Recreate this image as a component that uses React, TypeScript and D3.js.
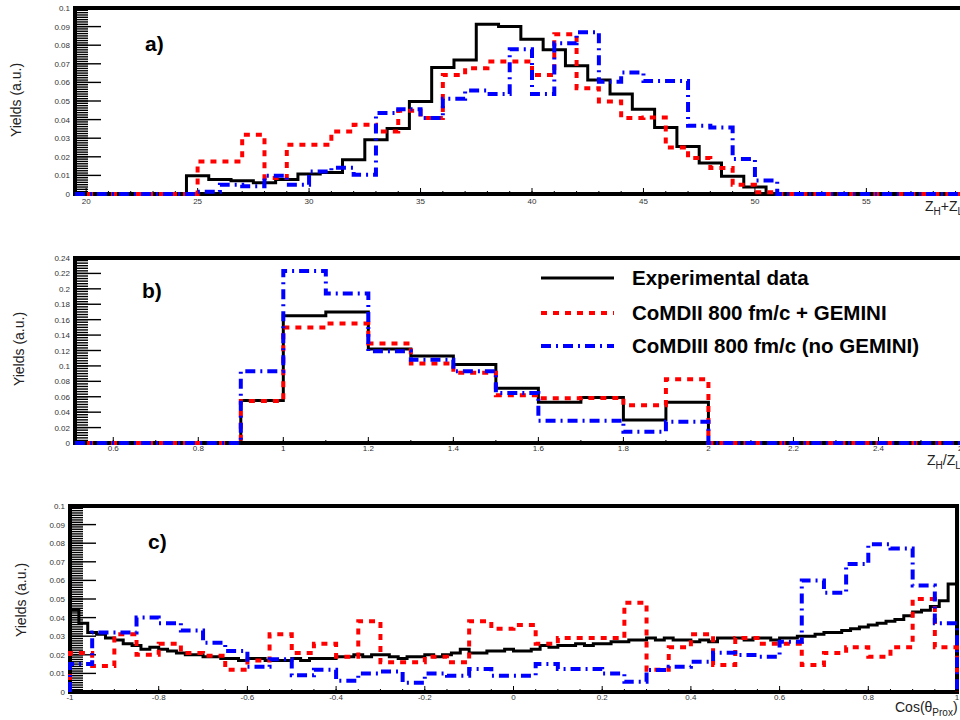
import React, { useEffect, useRef } from 'react';
import * as d3 from 'd3';

// a) Z_H + Z_L : data bins are centred on integers, the simulations use integer edges
const aExpStart = 24.5;
const aExp = [0.0098, 0.0078, 0.0071, 0.006, 0.0078, 0.0108, 0.0116, 0.0184, 0.0291, 0.0352, 0.0497, 0.068, 0.0721,
  0.0912, 0.09, 0.0832, 0.0775, 0.0689, 0.0613, 0.0537, 0.0456, 0.0357, 0.0256, 0.0166, 0.0095, 0.0037];
const aSimStart = 25;
const aGem = [0.0175, 0.0175, 0.0318, 0.0086, 0.0265, 0.0265, 0.0336, 0.0372, 0.0336, 0.0447, 0.0408, 0.064, 0.0676,
  0.0712, 0.0712, 0.064, 0.0859, 0.0569, 0.0497, 0.0408, 0.0411, 0.025, 0.0193, 0.014, 0.005, 0.001];
const aNoGem = [0.0012, 0.005, 0.0042, 0.0098, 0.005, 0.0121, 0.0141, 0.0104, 0.0435, 0.0456, 0.0408, 0.0512, 0.0556,
  0.0537, 0.0778, 0.0537, 0.081, 0.087, 0.0604, 0.0653, 0.0608, 0.0608, 0.0367, 0.0357, 0.0188, 0.0073];
const aXTicks = [20, 25, 30, 35, 40, 45, 50, 55, 60];
const aYTicks = [0, 0.01, 0.02, 0.03, 0.04, 0.05, 0.06, 0.07, 0.08, 0.09, 0.1];

// b) Z_H / Z_L, 0.1 wide bins from 0.9
const bStart = 0.9;
const bExp = [0.055, 0.165, 0.17, 0.122, 0.113, 0.102, 0.071, 0.053, 0.059, 0.03, 0.053];
const bGem = [0.0546, 0.15, 0.155, 0.129, 0.103, 0.091, 0.062, 0.058, 0.0585, 0.049, 0.0826];
const bNoGem = [0.093, 0.223, 0.194, 0.119, 0.108, 0.093, 0.065, 0.029, 0.029, 0.0145, 0.0275];
const bXTicks = [0.6, 0.8, 1, 1.2, 1.4, 1.6, 1.8, 2, 2.2, 2.4, 2.6];
const bYTicks = [0, 0.02, 0.04, 0.06, 0.08, 0.1, 0.12, 0.14, 0.16, 0.18, 0.2, 0.22, 0.24];

// c) Cos(theta_Prox): data in 0.02 bins, simulations in 0.05 bins
const cExp = [
  0.044, 0.037, 0.032, 0.031, 0.029, 0.028, 0.026, 0.025, 0.023, 0.024,
  0.023, 0.022, 0.021, 0.02, 0.02, 0.019, 0.019, 0.018, 0.018, 0.017,
  0.018, 0.018, 0.017, 0.017, 0.017, 0.018, 0.017, 0.018, 0.018, 0.018,
  0.019, 0.019, 0.02, 0.019, 0.02, 0.02, 0.019, 0.018, 0.019, 0.019,
  0.02, 0.019, 0.02, 0.021, 0.023, 0.021, 0.021, 0.022, 0.022, 0.023,
  0.022, 0.022, 0.023, 0.025, 0.024, 0.025, 0.025, 0.026, 0.025, 0.026,
  0.026, 0.027, 0.027, 0.028, 0.028, 0.029, 0.028, 0.029, 0.028, 0.028,
  0.027, 0.028, 0.027, 0.029, 0.029, 0.029, 0.028, 0.029, 0.029, 0.028,
  0.029, 0.029, 0.03, 0.03, 0.031, 0.032, 0.032, 0.033, 0.034, 0.035,
  0.036, 0.037, 0.038, 0.039, 0.041, 0.043, 0.044, 0.046, 0.049, 0.058];
const cGem = [
  0.021, 0.014, 0.031, 0.02, 0.026, 0.021, 0.0195, 0.012, 0.017, 0.031,
  0.021, 0.026, 0.019, 0.038, 0.016, 0.016, 0.019, 0.016, 0.038, 0.034,
  0.036, 0.026, 0.029, 0.029, 0.029, 0.048, 0.012, 0.024, 0.031, 0.0145,
  0.029, 0.026, 0.026, 0.0145, 0.021, 0.024, 0.019, 0.024, 0.05, 0.024];
const cNoGem = [
  0.015, 0.032, 0.032, 0.04, 0.037, 0.033, 0.0265, 0.022, 0.0136, 0.0176,
  0.009, 0.012, 0.006, 0.01, 0.011, 0.005, 0.01, 0.0088, 0.0124, 0.0088,
  0.0088, 0.015, 0.0124, 0.0124, 0.01, 0.0055, 0.0118, 0.0136, 0.0163, 0.0211,
  0.0199, 0.019, 0.027, 0.06, 0.0534, 0.0688, 0.0794, 0.0772, 0.0572, 0.0369];
const cXTicks = [-1, -0.8, -0.6, -0.4, -0.2, 0, 0.2, 0.4, 0.6, 0.8, 1];
const cYTicks = aYTicks;

const legendLabels = ['Experimental data', 'CoMDII 800 fm/c + GEMINI', 'CoMDIII 800 fm/c (no GEMINI)'];

const FONT = '"Liberation Sans", Arial, Helvetica, sans-serif';
const styles = [
  { color: '#000000', width: 3, dash: null },
  { color: '#ff0000', width: 4, dash: '6,6' },
  { color: '#0000ff', width: 4, dash: '10,5,2,5' },
];

const panels = [
  {
    label: 'a)', labelPos: [145, 51], left: 75, right: 989, top: 8, bottom: 194,
    xDomain: [19.5, 60.5], yMax: 0.1, xTicks: aXTicks, yTicks: aYTicks, xMinor: 1, yMinorN: 8,
    tickDy: 10, titleY: 100, titleX: 16,
    xTitle: { x: 925, y: 211, parts: ['Z', 'H', '+Z', 'L'] },
    series: [
      { start: aExpStart, width: 1, vals: aExp },
      { start: aSimStart, width: 1, vals: aGem },
      { start: aSimStart, width: 1, vals: aNoGem },
    ],
  },
  {
    label: 'b)', labelPos: [142, 298], left: 75, right: 989, top: 258, bottom: 443,
    xDomain: [0.51, 2.66], yMax: 0.24, xTicks: bXTicks, yTicks: bYTicks, xMinor: 0.1, yMinorN: 6,
    tickDy: 8, titleY: 349, titleX: 19,
    xTitle: { x: 927, y: 465, parts: ['Z', 'H', '/Z', 'L'] },
    series: [
      { start: bStart, width: 0.1, vals: bExp },
      { start: bStart, width: 0.1, vals: bGem },
      { start: bStart, width: 0.1, vals: bNoGem },
    ],
  },
  {
    label: 'c)', labelPos: [148, 549], left: 70, right: 957, top: 506, bottom: 692,
    xDomain: [-1, 1], yMax: 0.1, xTicks: cXTicks, yTicks: cYTicks, xMinor: 0.05, yMinorN: 8,
    tickDy: 8, titleY: 600, titleX: 21,
    xTitle: { x: 895, y: 712, parts: ['Cos(\u03b8', 'Prox', ')', ''] },
    series: [
      { start: -1, width: 0.02, vals: cExp },
      { start: -1, width: 0.05, vals: cGem },
      { start: -1, width: 0.05, vals: cNoGem },
    ],
  },
];

// step outline of a histogram, flat at zero out to the axis ends
const steps = (start: number, width: number, vals: number[], lo: number, hi: number) => {
  const pts: [number, number][] = [[lo, 0], [start, 0]];
  vals.forEach((v, i) => {
    pts.push([start + i * width, v], [start + (i + 1) * width, v]);
  });
  pts.push([start + vals.length * width, 0], [hi, 0]);
  return pts;
};

const fmt = (v: number) => String(+v.toFixed(3));

const App = () => {
  const ref = useRef<SVGSVGElement>(null);

  useEffect(() => {
    const svg = d3.select(ref.current);
    svg.selectAll('*').remove();
    svg.append('rect').attr('width', 960).attr('height', 720).attr('fill', '#fff');

    panels.forEach(p => {
      const x = d3.scaleLinear().domain(p.xDomain).range([p.left, p.right]);
      const y = d3.scaleLinear().domain([0, p.yMax]).range([p.bottom, p.top]);
      const g = svg.append('g');

      // y ticks: long majors, dense minors
      const yStep = p.yTicks[1] - p.yTicks[0];
      const nMinor = (p.yTicks.length - 1) * p.yMinorN;
      g.selectAll('line.ymin')
        .data(d3.range(0, nMinor + 1).map(i => (i * yStep) / p.yMinorN))
        .enter().append('line')
        .attr('x1', p.left).attr('x2', p.left + 13)
        .attr('y1', d => y(d)).attr('y2', d => y(d))
        .attr('stroke', '#000').attr('stroke-width', 1.4);
      g.selectAll('line.ymaj')
        .data(p.yTicks)
        .enter().append('line')
        .attr('x1', p.left).attr('x2', p.left + 26)
        .attr('y1', d => y(d)).attr('y2', d => y(d))
        .attr('stroke', '#000').attr('stroke-width', 1.4);
      g.selectAll('text.ylab')
        .data(p.yTicks)
        .enter().append('text')
        .attr('x', p.left - 5).attr('y', d => y(d) + 3)
        .attr('text-anchor', 'end')
        .style('font', `8px ${FONT}`).attr('fill', '#333')
        .text(d => fmt(d));

      // x ticks on the bottom axis
      const nx = Math.round((p.xDomain[1] - p.xDomain[0]) / p.xMinor) + 1;
      const first = Math.ceil(p.xDomain[0] / p.xMinor - 1e-6) * p.xMinor;
      g.selectAll('line.xmin')
        .data(d3.range(0, nx).map(i => first + i * p.xMinor))
        .enter().append('line')
        .attr('x1', d => x(d)).attr('x2', d => x(d))
        .attr('y1', p.bottom).attr('y2', p.bottom - 3)
        .attr('stroke', '#000').attr('stroke-width', 1);
      g.selectAll('line.xmaj')
        .data(p.xTicks)
        .enter().append('line')
        .attr('x1', d => x(d)).attr('x2', d => x(d))
        .attr('y1', p.bottom).attr('y2', p.bottom - 6)
        .attr('stroke', '#000').attr('stroke-width', 1);
      g.selectAll('text.xlab')
        .data(p.xTicks)
        .enter().append('text')
        .attr('x', d => x(d)).attr('y', p.bottom + p.tickDy)
        .attr('text-anchor', 'middle')
        .style('font', `8px ${FONT}`).attr('fill', '#333')
        .text(d => fmt(d));

      // frame
      g.append('rect')
        .attr('x', p.left).attr('y', p.top)
        .attr('width', p.right - p.left).attr('height', p.bottom - p.top)
        .attr('fill', 'none').attr('stroke', '#000').attr('stroke-width', 4);

      // histograms
      const line = d3.line<[number, number]>().x(d => x(d[0])).y(d => y(d[1]));
      p.series.forEach((s, k) => {
        const st = styles[k];
        g.append('path')
          .attr('d', line(steps(s.start, s.width, s.vals, p.xDomain[0], p.xDomain[1])))
          .attr('fill', 'none')
          .attr('stroke', st.color)
          .attr('stroke-width', st.width)
          .attr('stroke-dasharray', st.dash)
          .attr('stroke-linejoin', 'miter');
      });

      // panel letter
      g.append('text')
        .attr('x', p.labelPos[0]).attr('y', p.labelPos[1])
        .style('font', `bold 21px ${FONT}`)
        .text(p.label);

      // y title
      g.append('text')
        .attr('transform', `translate(${p.titleX + 5},${p.titleY}) rotate(-90)`)
        .attr('text-anchor', 'middle')
        .style('font', `14px ${FONT}`).attr('fill', '#222')
        .text('Yields (a.u.)');

      // x title with subscripts
      const t = g.append('text')
        .attr('x', p.xTitle.x).attr('y', p.xTitle.y)
        .style('font', `14px ${FONT}`).attr('fill', '#222');
      const [a, sa, b, sb] = p.xTitle.parts;
      t.append('tspan').text(a);
      t.append('tspan').attr('dy', 4).style('font-size', '10px').text(sa);
      t.append('tspan').attr('dy', -4).text(b);
      if (sb) t.append('tspan').attr('dy', 4).style('font-size', '10px').text(sb);
    });

    // legend inside panel b
    const legY = [278, 313, 346];
    legendLabels.forEach((lab, k) => {
      const st = styles[k];
      svg.append('line')
        .attr('x1', 541).attr('x2', 614)
        .attr('y1', legY[k]).attr('y2', legY[k])
        .attr('stroke', st.color).attr('stroke-width', st.width)
        .attr('stroke-dasharray', st.dash);
      svg.append('text')
        .attr('x', 632).attr('y', legY[k] + 7)
        .style('font', `bold 20.5px ${FONT}`)
        .text(lab);
    });

    return () => {
      svg.selectAll('*').remove();
    };
  }, []);

  return <svg ref={ref} width={960} height={720} style={{ position: 'absolute', left: 0, top: 0 }} />;
};

export default App;
